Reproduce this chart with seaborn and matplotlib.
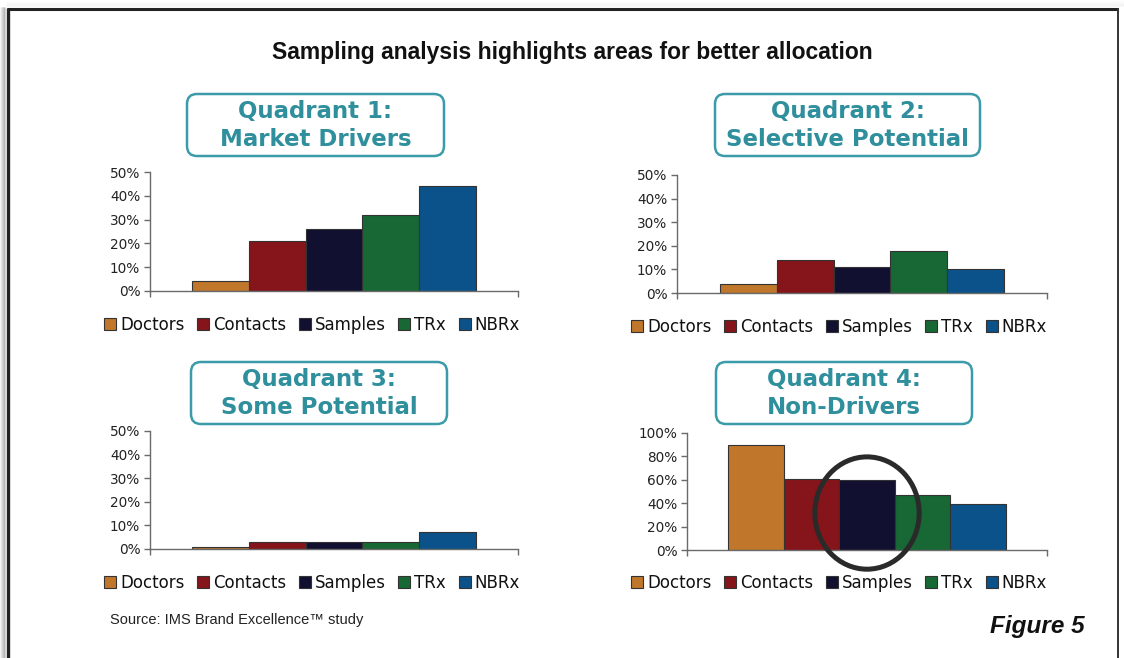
import matplotlib
matplotlib.use("Agg")
import matplotlib.pyplot as plt
import seaborn as sns
import pandas as pd
from matplotlib.patches import FancyBboxPatch, Ellipse, Patch
from matplotlib.ticker import PercentFormatter, MultipleLocator

# --- DATA ---
series = ["Doctors", "Contacts", "Samples", "TRx", "NBRx"]
colors = ["#c0772b", "#85151a", "#121030", "#176835", "#0a5289"]

q1_values = [0.04, 0.21, 0.26, 0.32, 0.44]
q2_values = [0.04, 0.14, 0.11, 0.18, 0.10]
q3_values = [0.01, 0.03, 0.03, 0.03, 0.07]
q4_values = [0.90, 0.61, 0.60, 0.47, 0.39]

titles = ["Quadrant 1:\nMarket Drivers", "Quadrant 2:\nSelective Potential",
          "Quadrant 3:\nSome Potential", "Quadrant 4:\nNon-Drivers"]
y_max = [0.5, 0.5, 0.5, 1.0]
y_step = [0.1, 0.1, 0.1, 0.2]

main_title = "Sampling analysis highlights areas for better allocation"
source_note = "Source: IMS Brand Excellence\u2122 study"
figure_label = "Figure 5"

# --- LAYOUT (pixels, top-left origin) ---
W, H = 1124, 658
axes_px = [(150, 172, 518, 291), (677, 175, 1047, 293),
           (150, 431, 518, 549), (687, 433, 1047, 550)]
boxes_px = [(187, 94, 444, 156), (715, 94, 980, 156),
            (191, 362, 447, 424), (716, 362, 972, 424)]
legend_px = [(312, 325), (839, 327), (312, 583), (839, 583)]

TEAL_EDGE = "#3c9ba8"
TEAL_TEXT = "#2f8f9c"
AXIS_GREY = "#6a6a6a"
BAR_WIDTH = 0.77


def main():
    sns.set_theme(style="white")
    plt.rcParams["font.family"] = ["DejaVu Sans"]

    fig = plt.figure(figsize=(W / 100, H / 100), dpi=100)
    fig.patch.set_facecolor("white")

    # background overlay in pixel coordinates
    bg = fig.add_axes([0, 0, 1, 1], zorder=0)
    bg.set_xlim(0, W)
    bg.set_ylim(H, 0)
    bg.axis("off")
    bg.patch.set_visible(False)

    # frame with a soft shadow on the left/top
    for i, a in enumerate([0.05, 0.08, 0.12, 0.16, 0.2]):
        bg.plot([1 + i, 1 + i], [8, H], color="black", alpha=a, lw=1.2)
        bg.plot([7, W], [2 + i, 2 + i], color="black", alpha=a * 0.15, lw=1.2)
    bg.plot([7.5, 7.5], [8, H], color="#222222", lw=2.4, solid_capstyle="butt")
    bg.plot([6.5, 1118], [8.5, 8.5], color="#222222", lw=2.2, solid_capstyle="butt")
    bg.plot([1118, 1118], [8, H], color="#333333", lw=1.4, solid_capstyle="butt")

    bg.text(W / 2 + 10, 52, main_title, ha="center", va="center", fontsize=16.5,
            fontweight="bold", color="#111111", family=["Liberation Sans"])
    bg.text(110, 620, source_note, ha="left", va="center", fontsize=10.5,
            color="#222222", family=["Liberation Sans"])
    bg.text(1085, 627, figure_label, ha="right", va="center", fontsize=17.5,
            fontweight="bold", fontstyle="italic", color="#111111",
            family=["Liberation Sans"])

    # quadrant title boxes
    for (x0, y0, x1, y1), title in zip(boxes_px, titles):
        box = FancyBboxPatch((x0, y0), x1 - x0, y1 - y0,
                             boxstyle="round,pad=0,rounding_size=10",
                             fc="white", ec=TEAL_EDGE, lw=1.8)
        bg.add_patch(box)
        bg.text((x0 + x1) / 2, (y0 + y1) / 2 + 0.5, title, ha="center", va="center",
                fontsize=16.5, fontweight="bold", color=TEAL_TEXT,
                linespacing=1.32)

    all_values = [q1_values, q2_values, q3_values, q4_values]
    handles = [Patch(facecolor=c, edgecolor="#333333", linewidth=0.8, label=s)
               for s, c in zip(series, colors)]

    for k, values in enumerate(all_values):
        l, t, r, b = axes_px[k]
        ax = fig.add_axes([l / W, (H - b) / H, (r - l) / W, (b - t) / H], zorder=2)
        df = pd.DataFrame({"group": ["all"] * len(series), "series": series,
                           "value": values})
        sns.barplot(data=df, x="group", y="value", hue="series", hue_order=series,
                    palette=colors, width=BAR_WIDTH, gap=0, saturation=1,
                    edgecolor="#333333", linewidth=0.8, legend=False, ax=ax)

        ax.set_xlim(-0.5, 0.5)
        ax.set_ylim(0, y_max[k])
        ax.yaxis.set_major_locator(MultipleLocator(y_step[k]))
        ax.yaxis.set_major_formatter(PercentFormatter(1.0, decimals=0))
        ax.set_xticks([-0.5, 0.5])
        ax.set_xticklabels(["", ""])
        ax.set_xlabel("")
        ax.set_ylabel("")
        ax.patch.set_visible(False)
        for side in ["top", "right"]:
            ax.spines[side].set_visible(False)
        for side in ["left", "bottom"]:
            ax.spines[side].set_color(AXIS_GREY)
            ax.spines[side].set_linewidth(1.0)
        ax.tick_params(axis="both", direction="out", length=4, width=1,
                       color=AXIS_GREY, pad=3)
        ax.tick_params(axis="y", labelsize=9.8, labelcolor="#222222")
        ax.xaxis.set_tick_params(bottom=True)
        ax.yaxis.set_tick_params(left=True)

        cx, cy = legend_px[k]
        ax.legend(handles=handles, loc="center", ncol=5, frameon=False,
                  bbox_to_anchor=(cx / W, (H - cy) / H), bbox_transform=fig.transFigure,
                  fontsize=12, handlelength=0.72, handleheight=0.72,
                  handletextpad=0.25, columnspacing=0.75, borderpad=0,
                  labelcolor="#111111")

        # highlight the Samples bar in the non-drivers quadrant
        if k == 3:
            idx = series.index("Samples")
            bar_w = BAR_WIDTH / len(series)
            x_c = (idx - (len(series) - 1) / 2) * bar_w
            ring = Ellipse((x_c, 0.316), 0.29, 0.96, fill=False,
                           ec="#2a2a2a", lw=3.6, clip_on=False, zorder=5)
            ax.add_patch(ring)

    fig.savefig("out.png", dpi=100)


if __name__ == "__main__":
    main()
